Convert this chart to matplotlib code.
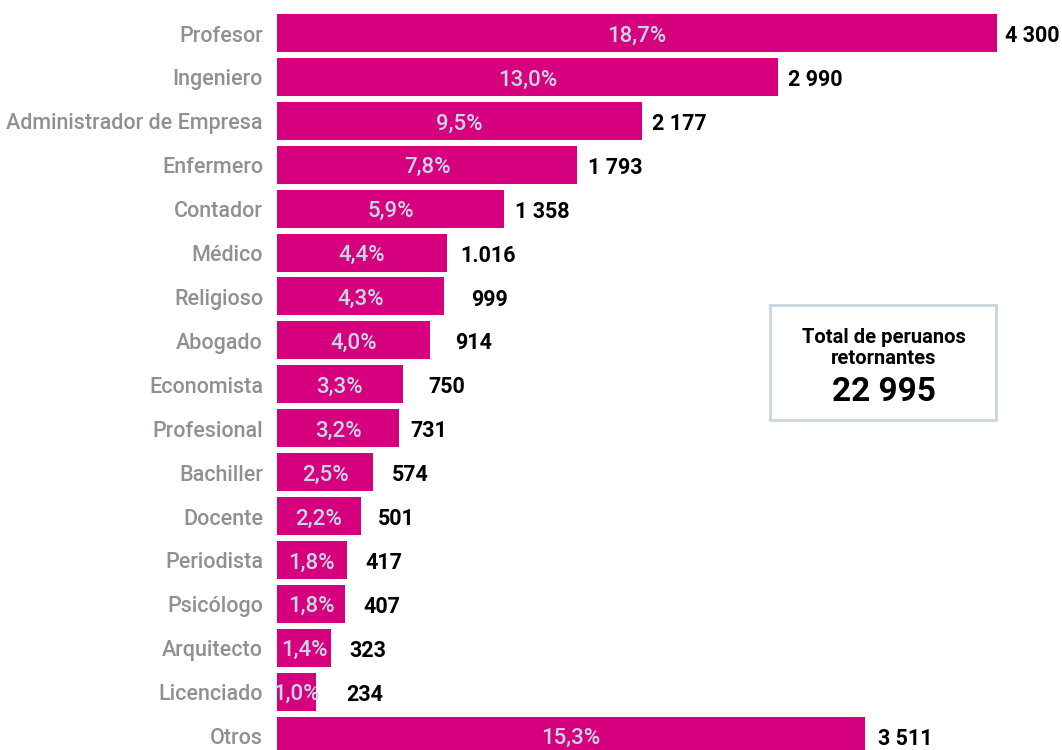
import matplotlib.pyplot as plt
from matplotlib.patches import Rectangle

# Profesiones de los peruanos retornantes
categorias = ['Profesor', 'Ingeniero', 'Administrador de Empresa', 'Enfermero',
              'Contador', 'Médico', 'Religioso', 'Abogado', 'Economista',
              'Profesional', 'Bachiller', 'Docente', 'Periodista', 'Psicólogo',
              'Arquitecto', 'Licenciado', 'Otros']
valores = [4300, 2990, 2177, 1793, 1358, 1016, 999, 914, 750, 731,
           574, 501, 417, 407, 323, 234, 3511]
porcentajes = [18.7, 13.0, 9.5, 7.8, 5.9, 4.4, 4.3, 4.0, 3.3, 3.2,
               2.5, 2.2, 1.8, 1.8, 1.4, 1.0, 15.3]
etiquetas_valor = ['4 300', '2 990', '2 177', '1 793', '1 358', '1.016', '999',
                   '914', '750', '731', '574', '501', '417', '407', '323',
                   '234', '3 511']
total = '22 995'

# separación (px) entre el final de cada barra y su cifra
sep = [8, 10, 10, 11, 11, 13, 27, 25, 26, 11, 19, 17, 19, 18, 18, 30, 13]

plt.rcParams['font.family'] = ['Roboto', 'DejaVu Sans']

MAGENTA = '#d6007f'
GRIS = '#8e9095'
CELESTE = '#c6d6e2'
BAJADA = -2.2  # desplazamiento vertical de los textos (pt)

fig = plt.figure(figsize=(10.62, 7.5), dpi=100)
ax = fig.add_axes([277 / 1062, 0, 1 - 277 / 1062, 1])

y = list(range(len(categorias)))
ax.barh(y, valores, height=0.865, color=MAGENTA)
ax.set_ylim(16.33, -0.752)
ax.set_xlim(0, 4300 * 785 / 720)
ax.axis('off')

for i, (v, p, lab, s) in enumerate(zip(valores, porcentajes, etiquetas_valor, sep)):
    ax.annotate(f'{p:.1f}%'.replace('.', ','), (v / 2, i), xytext=(0, BAJADA),
                textcoords='offset points', ha='center', va='center',
                color=CELESTE, fontsize=16, fontweight='medium')
    ax.annotate(lab, (v, i), xytext=(s * 0.72, BAJADA), textcoords='offset points',
                ha='left', va='center', color='black', fontsize=15.5,
                fontweight='bold')
    ax.annotate(categorias[i], (0, i), xytext=(-14 * 0.72, BAJADA),
                textcoords='offset points', ha='right', va='center',
                color=GRIS, fontsize=15.5, fontweight='medium',
                annotation_clip=False)

# recuadro con el total
fig.patches.append(Rectangle((770 / 1062, 1 - 420 / 750), 226 / 1062, 115 / 750,
                             transform=fig.transFigure, fill=False,
                             edgecolor='#c9d4dc', linewidth=2))
fig.text(884 / 1062, 1 - 348 / 750, 'Total de peruanos\nretornantes',
         ha='center', va='center', fontsize=14.5, fontweight='bold',
         linespacing=1.15)
fig.text(884 / 1062, 1 - 392 / 750, total, ha='center', va='center',
         fontsize=24, fontweight='bold')

fig.savefig('out.png', dpi=100)
